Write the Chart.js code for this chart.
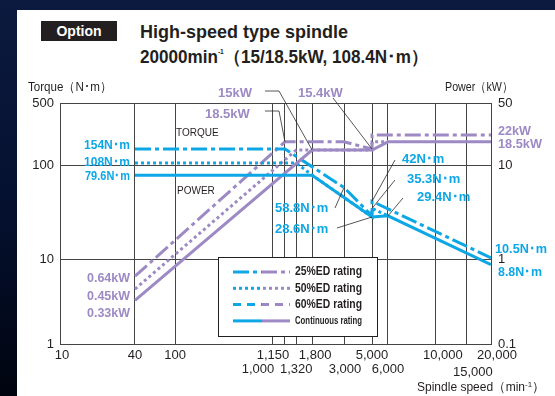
<!DOCTYPE html>
<html>
<head>
<meta charset="utf-8">
<script src="https://cdn.jsdelivr.net/npm/chart.js@4/dist/chart.umd.min.js"></script>
<style>
  body { margin: 0; width: 555px; height: 396px; overflow: hidden; position: relative;
         background: linear-gradient(to bottom, #0c1a3f 0%, #04102e 55%, #00040f 100%);
         font-family: "Liberation Sans", Arial, sans-serif; color: #231f20; }
  #panel { position: absolute; left: 17px; top: 10px; width: 538px; height: 386px; background: #fff; }
  #badge { position: absolute; left: 41px; top: 21px; width: 76px; height: 20px; background: #231f20;
           color: #fff; font-weight: bold; font-size: 14px; line-height: 20px; text-align: center; }
  .title { position: absolute; left: 140px; font-weight: bold; font-size: 18px; line-height: 18px; white-space: nowrap; transform-origin: 0 50%; }
  #title1 { top: 23px; }
  #title2 { top: 48px; }
  #title2 sup { font-size: 7px; vertical-align: 9px; line-height: 0; }
  canvas { position: absolute; left: 0; top: 0; }
</style>
</head>
<body>
<div id="panel"></div>
<div id="badge">Option</div>
<div class="title" id="title1">High-speed type spindle</div>
<div class="title" id="title2">20000min<sup>-1</sup>（15/18.5kW, 108.4N･m）</div>
<canvas id="chart" width="555" height="396"></canvas>
<script>
// ---- chart values ----
const speedTicks = [10, 40, 100, 1000, 1150, 1320, 1800, 3000, 5000, 6000, 10000, 15000, 20000];
const speedTickLabels = ['10', '40', '100', '1,000', '1,150', '1,320', '1,800', '3,000', '5,000', '6,000', '10,000', '15,000', '20,000'];
const torqueTicks = [1, 10, 100, 500];
const powerTicks = [0.1, 1, 10, 50];

// 25%ED rating
const speed25 = [40, 1150, 3000, 5000, 5000, 20000];
const torque25 = [154, 154, 58.8, 29.4, 42, 10.5];
const power25 = [0.64, 18.5, 18.5, 15.4, 22, 22];

// 50%ED rating
const speed50T = [40, 1320, 1800, 5000, 5000, 6000];
const torque50 = [108, 108, 79.6, 28.6, 35.3, 29.4];
const speed50P = [40, 1320, 5000, 5000, 6000];
const power50 = [0.45, 15, 15, 18.5, 18.5];

// Continuous rating
const speedCont = [40, 1800, 5000, 6000, 20000];
const torqueCont = [79.6, 79.6, 28.6, 29.4, 8.8];
const powerCont = [0.33, 15, 15, 18.5, 18.5];

const ratingLabels = ['25%ED rating', '50%ED rating', '60%ED rating', 'Continuous rating'];

// ---- look ----
const FONT = '"Liberation Sans", Arial, sans-serif';
const BLUE = '#0ea7e6';
const PURPLE = '#9d8ac5';
const INK = '#231f20';
const GRID = '#454545';
const DASH_DOT = [16, 4, 4, 4];
const DOTS = [3, 3];
const DASHED = [8, 6];
const ratingDash = [DASH_DOT, DOTS, DASHED, []];

// second title line is set tighter in the print
const t2 = document.getElementById('title2');
t2.style.transform = 'scaleX(' + Math.min(1, 288 / t2.getBoundingClientRect().width) + ')';

// the printed axes are not evenly logarithmic: value -> fraction of axis length
const axisWarp = {
  x: [[10, 0], [40, .174], [100, .267], [1000, .494], [1150, .522], [1320, .548], [1800, .585],
      [3000, .659], [5000, .724], [6000, .761], [10000, .872], [15000, .944], [20000, 1]],
  y: [[1, 0], [10, .349], [100, .739], [500, 1]],
  y2: [[0.1, 0], [1, .349], [10, .739], [50, 1]],
};

class WarpLogScale extends Chart.LogarithmicScale {
  getPixelForValue(value) {
    const w = axisWarp[this.id];
    const lv = Math.log10(value);
    let i = 0;
    while (i < w.length - 2 && lv > Math.log10(w[i + 1][0])) i++;
    const a = Math.log10(w[i][0]), b = Math.log10(w[i + 1][0]);
    const t = (lv - a) / (b - a);
    return this.getPixelForDecimal(w[i][1] + t * (w[i + 1][1] - w[i][1]));
  }
  getValueForPixel(pixel) {
    const w = axisWarp[this.id];
    const d = this.getDecimalForPixel(pixel);
    let i = 0;
    while (i < w.length - 2 && d > w[i + 1][1]) i++;
    const t = (d - w[i][1]) / (w[i + 1][1] - w[i][1]);
    const a = Math.log10(w[i][0]), b = Math.log10(w[i + 1][0]);
    return Math.pow(10, a + t * (b - a));
  }
}
WarpLogScale.id = 'warplog';
WarpLogScale.defaults = Chart.LogarithmicScale.defaults;
Chart.register(WarpLogScale);

const pts = (xs, ys) => xs.map((x, i) => ({ x, y: ys[i] }));

function line(xs, ys, axis, color, dash) {
  return {
    data: pts(xs, ys), yAxisID: axis, borderColor: color, borderWidth: 3,
    borderDash: dash, borderCapStyle: 'butt', pointRadius: 0, fill: false, tension: 0,
  };
}

// ---- text around the plot ----
// left labels follow the data height, others sit where the print has them
const notes = [
  { text: '154N･m', color: BLUE, x: 130, axis: 'y', v: 154, dy: -4, align: 'right', w: 46 },
  { text: '108N･m', color: BLUE, x: 130, axis: 'y', v: 108, dy: 0, align: 'right', w: 46 },
  { text: '79.6N･m', color: BLUE, x: 130, axis: 'y', v: 79.6, dy: 1, align: 'right', w: 45 },
  { text: '0.64kW', color: PURPLE, x: 130, y: 278, align: 'right', w: 43 },
  { text: '0.45kW', color: PURPLE, x: 130, y: 296, align: 'right', w: 43 },
  { text: '0.33kW', color: PURPLE, x: 130, y: 313, align: 'right', w: 43 },
  { text: '15kW', color: PURPLE, x: 218, y: 93, w: 35, lead: [[265, 91], [279, 91]], to: [1800, 15, 'y2'] },
  { text: '18.5kW', color: PURPLE, x: 205, y: 114, w: 48, lead: [[265, 111], [279, 111]], to: [1150, 18.5, 'y2'] },
  { text: '15.4kW', color: PURPLE, x: 298, y: 93, w: 46, lead: [[333, 98]], to: [5000, 15.4, 'y2'] },
  { text: '22kW', color: PURPLE, x: 498, axis: 'y2', v: 22, dy: -4, w: 33 },
  { text: '18.5kW', color: PURPLE, x: 498, axis: 'y2', v: 18.5, dy: 3, w: 44 },
  { text: '42N･m', color: BLUE, x: 402, y: 159, w: 44, lead: [[395, 160]], to: [5000, 42, 'y'] },
  { text: '35.3N･m', color: BLUE, x: 407, y: 179, w: 57, lead: [[395, 180]], to: [5000, 35.3, 'y'] },
  { text: '29.4N･m', color: BLUE, x: 417, y: 197, w: 56, lead: [[403, 198]], to: [6000, 29.4, 'y'] },
  { text: '58.8N･m', color: BLUE, x: 275, y: 208, w: 56, lead: [[335, 208]], to: [3000, 58.8, 'y'] },
  { text: '28.6N･m', color: BLUE, x: 275, y: 229, w: 56, lead: [[337, 228]], to: [5000, 28.6, 'y'] },
  { text: '10.5N･m', color: BLUE, x: 495, axis: 'y', v: 10.5, dy: -8, w: 52 },
  { text: '8.8N･m', color: BLUE, x: 498, axis: 'y', v: 8.8, dy: 8, w: 44 },
];

const xLabelRow = [0, 0, 0, 1, 0, 1, 0, 1, 0, 1, 0, 1, 0];
const xLabelNudge = [2, 0, 0, -15, -12, 0, 3, 1, 0, 0, 7, 6, 6];

const decorPlugin = {
  id: 'decor',
  beforeDatasetsDraw(chart) {
    const { ctx, chartArea: a } = chart;
    ctx.save();
    ctx.strokeStyle = GRID;
    ctx.lineWidth = 1;
    ctx.strokeRect(Math.round(a.left) + 0.5, Math.round(a.top) + 0.5, Math.round(a.right - a.left), Math.round(a.bottom - a.top));
    ctx.restore();
  },
  afterDatasetsDraw(chart) {
    const { ctx, scales } = chart;
    ctx.save();

    // small words inside the plot
    ctx.fillStyle = INK;
    ctx.font = '10px ' + FONT;
    ctx.textBaseline = 'middle';
    ctx.textAlign = 'left';
    ctx.fillText('TORQUE', 176, 133);
    ctx.fillText('POWER', 177, 191);

    // leaders and value labels
    notes.forEach(n => {
      if (n.to) {
        const tx = scales.x.getPixelForValue(n.to[0]);
        const ty = scales[n.to[2]].getPixelForValue(n.to[1]);
        ctx.beginPath();
        ctx.strokeStyle = '#2b2b2b';
        ctx.lineWidth = 0.8;
        ctx.setLineDash([]);
        n.lead.forEach((p, i) => (i ? ctx.lineTo(p[0], p[1]) : ctx.moveTo(p[0], p[1])));
        ctx.lineTo(tx, ty);
        ctx.stroke();
      }
      const y = n.axis ? scales[n.axis].getPixelForValue(n.v) + (n.dy || 0) : n.y;
      ctx.fillStyle = n.color;
      ctx.font = 'bold 13px ' + FONT;
      ctx.textAlign = n.align || 'left';
      ctx.textBaseline = 'middle';
      ctx.fillText(n.text, n.x, y, n.w);
    });

    // legend box
    const bx = 218, by = 257, bw = 159, bh = 79;
    ctx.fillStyle = '#fff';
    ctx.fillRect(bx, by, bw, bh);
    ctx.strokeStyle = INK;
    ctx.lineWidth = 1;
    ctx.strokeRect(bx + 0.5, by + 0.5, bw, bh);
    ratingLabels.forEach((label, i) => {
      const y = 272 + i * 16.3;
      ctx.lineWidth = 3;
      ctx.lineCap = 'butt';
      ctx.setLineDash(ratingDash[i]);
      ctx.lineDashOffset = 0;
      ctx.strokeStyle = BLUE;
      ctx.beginPath(); ctx.moveTo(233, y); ctx.lineTo(262, y); ctx.stroke();
      ctx.lineDashOffset = 29;
      ctx.strokeStyle = PURPLE;
      ctx.beginPath(); ctx.moveTo(262, y); ctx.lineTo(290, y); ctx.stroke();
      ctx.setLineDash([]);
      ctx.fillStyle = INK;
      ctx.font = (i === 3 ? 'bold 11px ' : 'bold 12px ') + FONT;
      ctx.textAlign = 'left';
      ctx.fillText(label, 295, y, 67);
    });

    // speed tick labels (two staggered rows)
    ctx.fillStyle = INK;
    ctx.font = '13px ' + FONT;
    ctx.textAlign = 'center';
    speedTicks.forEach((v, i) => {
      const x = scales.x.getPixelForValue(v) + xLabelNudge[i];
      const y = xLabelRow[i] ? (v === 15000 ? 372 : 369) : 355;
      ctx.fillText(speedTickLabels[i], x, y);
    });

    // axis titles
    ctx.font = '12.5px ' + FONT;
    ctx.textAlign = 'left';
    ctx.fillText('Torque（N･m）', 28, 88, 84);
    ctx.fillText('Power（kW）', 445, 88, 68);
    let sx = 417;
    const part1 = 'Spindle speed（min';
    ctx.fillText(part1, sx, 388, 108);
    sx += Math.min(108, ctx.measureText(part1).width);
    ctx.font = '8px ' + FONT;
    ctx.fillText('-1', sx, 385);
    sx += ctx.measureText('-1').width;
    ctx.font = '12.5px ' + FONT;
    ctx.fillText('）', sx, 388);

    ctx.restore();
  },
};

const tickFont = { family: FONT, size: 13 };

new Chart(document.getElementById('chart'), {
  type: 'line',
  data: {
    datasets: [
      line(speedCont, torqueCont, 'y', BLUE, []),
      line(speedCont, powerCont, 'y2', PURPLE, []),
      line(speed50T, torque50, 'y', BLUE, DOTS),
      line(speed50P, power50, 'y2', PURPLE, DOTS),
      line(speed25, torque25, 'y', BLUE, DASH_DOT),
      line(speed25, power25, 'y2', PURPLE, DASH_DOT),
    ],
  },
  options: {
    responsive: false,
    animation: false,
    devicePixelRatio: 1,
    events: [],
    layout: { padding: { top: 103, left: 0, right: 0, bottom: 0 } },
    plugins: { legend: { display: false }, tooltip: { enabled: false } },
    scales: {
      x: {
        type: 'warplog', position: 'bottom', min: 10, max: 20000,
        afterBuildTicks: s => { s.ticks = speedTicks.map(v => ({ value: v })); },
        afterFit: s => { s.height = 52; },
        ticks: { display: false },
        grid: { color: GRID, drawTicks: false },
        border: { color: GRID },
      },
      y: {
        type: 'warplog', position: 'left', min: 1, max: 500,
        afterBuildTicks: s => { s.ticks = torqueTicks.map(v => ({ value: v })); },
        afterFit: s => { s.width = 60; },
        ticks: { color: INK, font: tickFont, padding: 6, callback: v => String(v) },
        grid: { color: GRID, drawTicks: false },
        border: { color: GRID },
      },
      y2: {
        type: 'warplog', position: 'right', min: 0.1, max: 50,
        afterBuildTicks: s => { s.ticks = powerTicks.map(v => ({ value: v })); },
        afterFit: s => { s.width = 64; },
        ticks: { color: INK, font: tickFont, padding: 7, callback: v => String(v) },
        grid: { display: false, drawTicks: false },
        border: { color: GRID },
      },
    },
  },
  plugins: [decorPlugin],
});
</script>
</body>
</html>
